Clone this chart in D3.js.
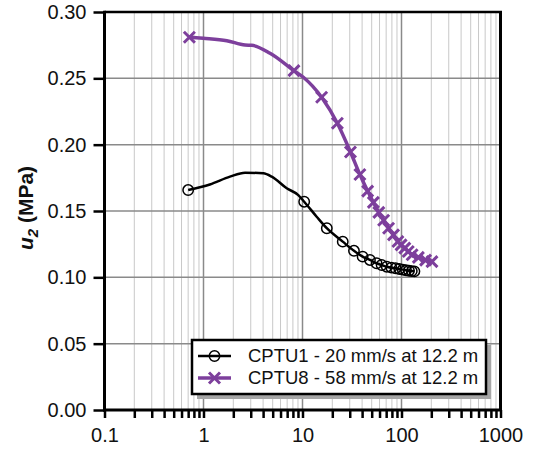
<!DOCTYPE html>
<html>
<head>
<meta charset="utf-8">
<script src="https://cdn.jsdelivr.net/npm/d3@7"></script>
<style>
  html, body { margin: 0; padding: 0; background: #fff; }
  svg { display: block; font-family: "Liberation Sans", Arial, sans-serif; }
</style>
</head>
<body>
<svg id="chart" width="534" height="451"></svg>
<script>
// CPTU1 - line points and marker points (time s, u2 MPa)
const cptu1Line = [
    [1.16, 0.170], [1.85, 0.1759], [2.63, 0.1789], [4.02, 0.1784], [4.89, 0.1759],
    [6.93, 0.1671], [9.07, 0.162], [13.9, 0.1457]
];
const cptu1Marks = [
    [0.70, 0.1658], [10.4, 0.157], [17.6, 0.137], [25.5, 0.1269], [33.1, 0.120],
    [40.5, 0.1156], [48, 0.1131], [56, 0.1106], [63, 0.1093], [71, 0.108],
    [79, 0.1073], [87, 0.1068], [95, 0.1063], [103, 0.1058], [111, 0.1053],
    [119, 0.105], [127, 0.1047], [135, 0.1045]
];

// CPTU8
const cptu8Line = [
    [0.995, 0.2802], [1.72, 0.2784], [2.63, 0.2751], [3.07, 0.2749], [4.7, 0.2689],
    [10.2, 0.2508]
];
const cptu8Marks = [
    [0.72, 0.281], [8.2, 0.2558], [15.6, 0.2357], [22.5, 0.2161], [30.5, 0.1945],
    [38, 0.1775], [45.5, 0.165], [52, 0.1565], [59, 0.149], [66, 0.143],
    [74, 0.137], [83, 0.132], [92, 0.127], [99, 0.1245], [108, 0.122],
    [117, 0.1195], [128, 0.117], [148, 0.115], [175, 0.113], [203, 0.1118]
];

const legendLabels = ["CPTU1 - 20 mm/s at 12.2 m", "CPTU8 - 58 mm/s at 12.2 m"];
const yTicks = [0, 0.05, 0.10, 0.15, 0.20, 0.25, 0.30];
const xDecades = [0.1, 1, 10, 100, 1000];

const black = "#000";
const purple = "#7d3f9c";

const plotLeft = 104.5, plotRight = 500.5, plotTop = 12, plotBottom = 410;

const x = d3.scaleLog().domain([0.1, 1000]).range([plotLeft, plotRight]);
const y = d3.scaleLinear().domain([0, 0.3]).range([plotBottom, plotTop]);

const svg = d3.select("#chart");

// grid
const xMinor = x.ticks();
svg.append("g")
    .selectAll("line")
    .data(xMinor)
    .enter().append("line")
    .attr("x1", d => x(d)).attr("x2", d => x(d))
    .attr("y1", plotTop).attr("y2", plotBottom)
    .attr("stroke", d => xDecades.includes(d) ? "#8a8a8a" : "#c8c8c8")
    .attr("stroke-width", d => xDecades.includes(d) ? 1.5 : 1);

svg.append("g")
    .selectAll("line")
    .data(yTicks.slice(1, -1))
    .enter().append("line")
    .attr("x1", plotLeft).attr("x2", plotRight)
    .attr("y1", d => y(d)).attr("y2", d => y(d))
    .attr("stroke", "#8a8a8a")
    .attr("stroke-width", 1.5);

// series
const line = d3.line().x(d => x(d[0])).y(d => y(d[1])).curve(d3.curveMonotoneX);
const sortByT = arr => arr.slice().sort((a, b) => a[0] - b[0]);

const series = [
    { line: sortByT(cptu1Line.concat(cptu1Marks)), marks: cptu1Marks, color: black, width: 2.5, sym: "circle" },
    { line: sortByT(cptu8Line.concat(cptu8Marks)), marks: cptu8Marks, color: purple, width: 3.5, sym: "cross" }
];

function drawMarker(g, sym, color) {
    if (sym === "circle") {
        g.append("circle").attr("r", 5.2)
            .attr("fill", "none").attr("stroke", color).attr("stroke-width", 1.5);
    } else {
        g.append("path").attr("d", "M-5.5,-5.5L5.5,5.5M-5.5,5.5L5.5,-5.5")
            .attr("stroke", color).attr("stroke-width", 3);
    }
}

series.forEach(s => {
    svg.append("path")
        .datum(s.line)
        .attr("d", line)
        .attr("fill", "none")
        .attr("stroke", s.color)
        .attr("stroke-width", s.width)
        .attr("stroke-linejoin", "round");

    svg.append("g")
        .selectAll("g")
        .data(s.marks)
        .enter().append("g")
        .attr("transform", d => "translate(" + x(d[0]) + "," + y(d[1]) + ")")
        .each(function () { drawMarker(d3.select(this), s.sym, s.color); });
});

// frame (top / right)
svg.append("line").attr("x1", plotLeft).attr("x2", plotRight + 1.5).attr("y1", plotTop).attr("y2", plotTop)
    .attr("stroke", black).attr("stroke-width", 2.5);
svg.append("line").attr("x1", plotRight).attr("x2", plotRight).attr("y1", plotTop).attr("y2", plotBottom)
    .attr("stroke", black).attr("stroke-width", 3);

// axes
const xAxis = d3.axisBottom(x)
    .tickValues(xMinor)
    .tickSize(8)
    .tickPadding(10)
    .tickFormat(d => xDecades.includes(d) ? String(d) : "");
const gx = svg.append("g").attr("transform", "translate(0," + plotBottom + ")").call(xAxis);
gx.select(".domain").attr("stroke", black).attr("stroke-width", 3).attr("d", "M" + (plotLeft - 1.5) + ",0H" + (plotRight + 1.5));
gx.selectAll(".tick line").attr("stroke", black).attr("stroke-width", 2.5);
gx.selectAll(".tick text").attr("font-size", 20).attr("fill", "#111")
    .style("font-family", "'Liberation Sans', Arial, sans-serif");

const yAxis = d3.axisLeft(y)
    .tickValues(yTicks)
    .tickSize(11)
    .tickPadding(7)
    .tickFormat(d3.format(".2f"));
const gy = svg.append("g").attr("transform", "translate(" + plotLeft + ",0)").call(yAxis);
gy.select(".domain").attr("stroke", black).attr("stroke-width", 3).attr("d", "M0," + (plotTop - 1.2) + "V" + (plotBottom + 1.5));
gy.selectAll(".tick line").attr("stroke", black).attr("stroke-width", 2.5);
gy.selectAll(".tick text").attr("font-size", 20).attr("fill", "#111")
    .style("font-family", "'Liberation Sans', Arial, sans-serif");

// y title
const title = svg.append("text")
    .attr("transform", "translate(33,208) rotate(-90)")
    .attr("text-anchor", "middle")
    .attr("font-size", 21)
    .attr("font-weight", "bold")
    .attr("fill", "#111");
title.append("tspan").attr("font-style", "italic").text("u");
title.append("tspan").attr("font-style", "italic").attr("font-size", 15).attr("dy", 5).text("2");
title.append("tspan").attr("dy", -5).text(" (MPa)");

// legend
const lg = svg.append("g");
lg.append("rect").attr("x", 197).attr("y", 345).attr("width", 294).attr("height", 54).attr("fill", "#a6a6a6");
lg.append("rect").attr("x", 192).attr("y", 340).attr("width", 294).attr("height", 54)
    .attr("fill", "#fff").attr("stroke", black).attr("stroke-width", 2.5);

series.forEach((s, i) => {
    const ly = 356 + i * 22;
    lg.append("line").attr("x1", 198).attr("x2", 231).attr("y1", ly).attr("y2", ly)
        .attr("stroke", s.color).attr("stroke-width", s.width);
    const mg = lg.append("g").attr("transform", "translate(214.5," + ly + ")");
    drawMarker(mg, s.sym, s.color);
    lg.append("text").attr("x", 248).attr("y", ly).attr("dy", "0.35em")
        .attr("font-size", 18.5).attr("fill", "#111").text(legendLabels[i]);
});
</script>
</body>
</html>
